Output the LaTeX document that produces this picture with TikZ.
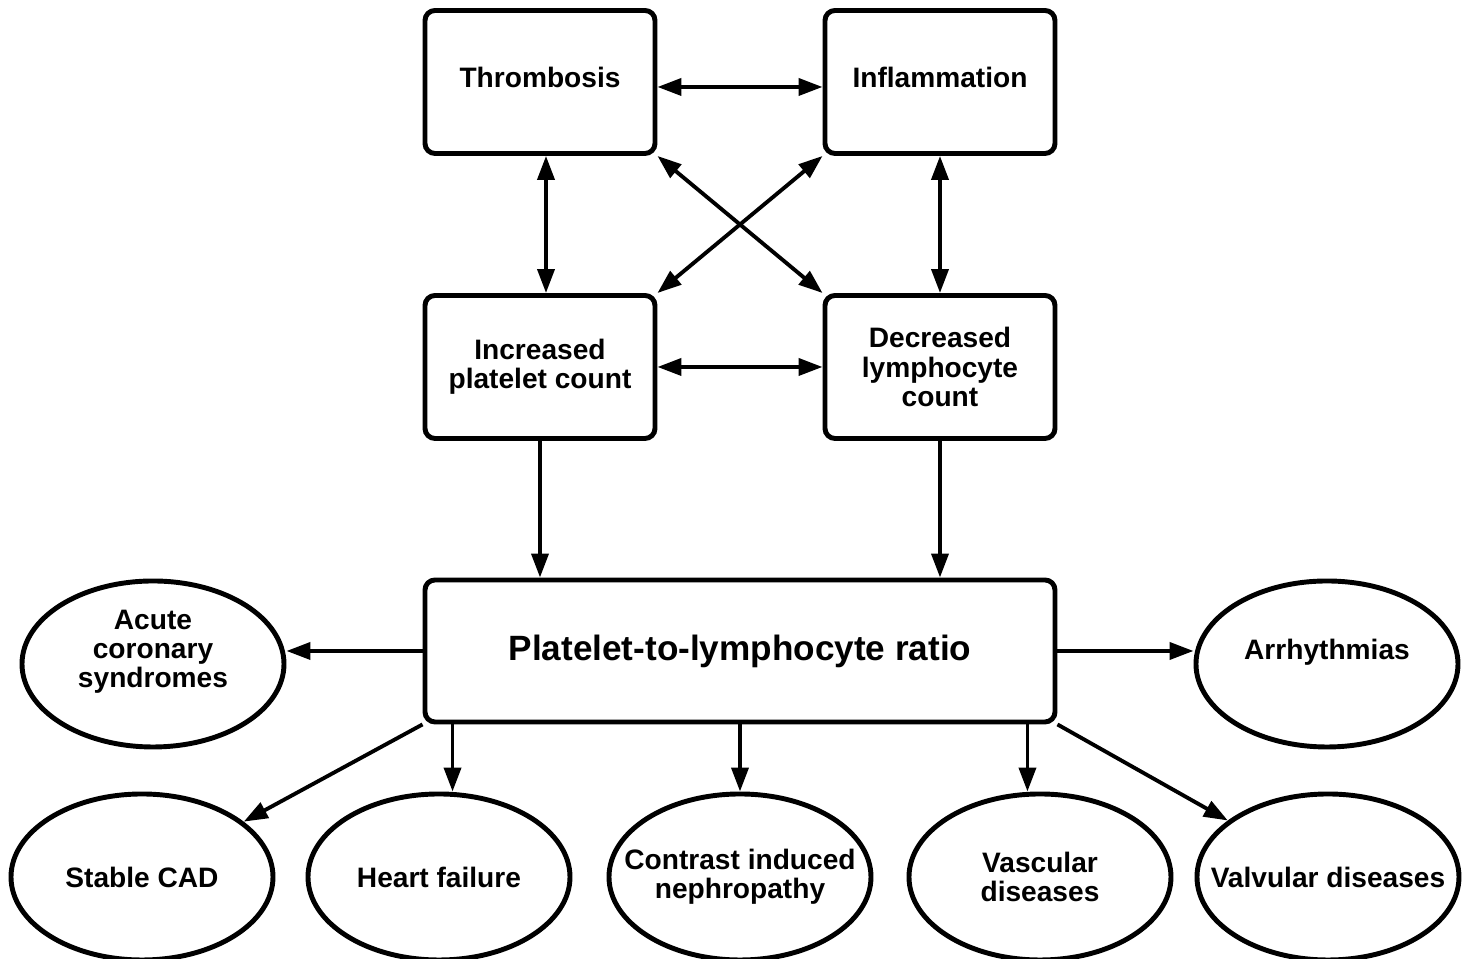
\documentclass[tikz,border=0pt]{standalone}
\usepackage{fontspec}
\setmainfont{Liberation Sans}
\usetikzlibrary{arrows.meta, shapes.geometric}
\tikzstyle{squarebox} = [draw, line width=1.4pt, rounded corners=1mm, minimum width=2.3cm, minimum height=1.43cm, align=center, font=\bfseries\fontsize{8}{8.3}\selectfont]
\tikzstyle{ovalblock} = [draw, ellipse, line width=1.4pt, minimum width=2.62cm, minimum height=1.66cm, inner xsep=-0.5cm, inner ysep=0pt, align=center, font=\bfseries\fontsize{8}{8.3}\selectfont]

\begin{document}
\begin{tikzpicture}[>={Triangle[length=2.4mm, width=1.7mm]}, line width=1.1pt]
      \useasboundingbox (0, 0) rectangle (14.65, 9.59);
      \node[squarebox, text depth=0.1cm] (thromb) at (5.40, 8.77) {Thrombosis};
      \node[squarebox, text depth=0.1cm] (inflam) at (9.40, 8.77) {Inflammation};
      \node[squarebox] (incplt) at (5.40, 5.92) {Increased\\platelet count};
      \node[squarebox] (declym) at (9.40, 5.92) {Decreased\\lymphocyte\\count};
      \node[squarebox, minimum width=6.3cm, minimum height=1.42cm, font=\bfseries\fontsize{10}{12}\selectfont] (plr) at (7.40, 3.08) {Platelet-to-lymphocyte ratio};
      \node[ovalblock, text depth=0.3cm] (acs) at (1.53, 2.95) {Acute\\coronary\\syndromes};
      \node[ovalblock, text depth=0.3cm] (arrhy) at (13.27, 2.95) {Arrhythmias};
      \node[ovalblock] (scad) at (1.42, 0.82) {Stable CAD};
      \node[ovalblock] (hfail) at (4.39, 0.82) {Heart failure};
      \node[ovalblock] (cin) at (7.40, 0.82) {Contrast induced\\nephropathy};
      \node[ovalblock] (vasc) at (10.40, 0.82) {Vascular\\diseases};
      \node[ovalblock] (valv) at (13.28, 0.82) {Valvular diseases};

      \draw[<->] ([yshift=-0.05cm]thromb.east) -- ([yshift=-0.05cm]inflam.west);
      \draw[<->] ([xshift=0.06cm]thromb.south) -- ([xshift=0.06cm]incplt.north);
      \draw[<->] (inflam.south) -- (declym.north);
      \draw[<->] (thromb.south east) -- (declym.north west);
      \draw[<->] (inflam.south west) -- (incplt.north east);
      \draw[<->] (incplt.east) -- (declym.west);
      \draw[->] (incplt.south) -- (plr.north -| incplt.south);
      \draw[->] (declym.south) -- (plr.north -| declym.south);
      \draw[->] (plr.west) -- (plr.west -| acs.east);
      \draw[->] (plr.east) -- (plr.east -| arrhy.west);
      \draw[->] (plr.south west) -- (scad);
      \draw[->] ([xshift=0.3cm]plr.south west) -- ([xshift=0.3cm]plr.south west |- hfail.north);
      \draw[->] (plr.south) -- (cin.north);
      \draw[->] ([xshift=-0.3cm]plr.south east) -- ([xshift=-0.3cm]plr.south east |- vasc.north);
      \draw[->] (plr.south east) -- (valv);
\end{tikzpicture}
\end{document}
